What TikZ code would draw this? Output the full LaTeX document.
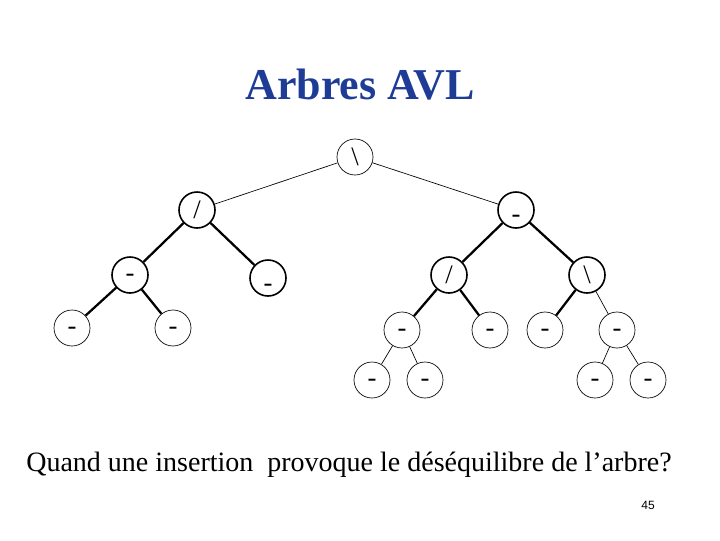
\documentclass[tikz,border=0pt]{standalone}
\usepackage{fontspec}
\setmainfont{Liberation Serif}
\newfontfamily\sans{Liberation Sans}
\definecolor{tblue}{RGB}{30,60,150}
\newcommand{\dsh}{\smash{\raisebox{-5pt}{-}}}
\begin{document}
\begin{tikzpicture}[x=0.75pt,y=-0.75pt,
  nd/.style={circle,draw,minimum size=27pt,inner sep=0pt,font=\fontsize{20}{20}\selectfont},
  thk/.style={nd,line width=1.2pt},
  thn/.style={nd,line width=0.5pt},
  te/.style={line width=1.7pt},
  tn/.style={line width=0.5pt}]
\useasboundingbox (0,0) rectangle (720,540);
\node[font=\bfseries\fontsize{33}{33}\selectfont,text=tblue] (title) at (360,85) {Arbres AVL};
\node[thn] (r) at (355,157) {\textbackslash};
\node[thk] (a) at (197,210) {/};
\node[thk] (b) at (516,210) {\smash{\raisebox{-9pt}{-}}};
\node[thk] (c) at (130,275) {\dsh};
\node[thk] (d) at (268,278) {\smash{\raisebox{-10pt}{-}}};
\node[thk] (e) at (449,275) {/};
\node[thk] (f) at (587,275) {\textbackslash};
\node[thn] (g) at (72,328) {\dsh};
\node[thn] (h) at (173,328) {\dsh};
\node[thn] (i) at (402,330) {\dsh};
\node[thn] (j) at (490,330) {\dsh};
\node[thn] (k) at (545,330) {\dsh};
\node[thn] (l) at (617,330) {\dsh};
\node[thn] (m) at (372,380) {\dsh};
\node[thn] (n) at (425,380) {\dsh};
\node[thn] (o) at (595,380) {\dsh};
\node[thn] (p) at (648,380) {\dsh};
\draw[tn] (r)--(a); \draw[tn] (r)--(b);
\draw[te] (a)--(c); \draw[te] (a)--(d);
\draw[te] (b)--(e); \draw[te] (b)--(f);
\draw[te] (c)--(g); \draw[te] (c)--(h);
\draw[te] (e)--(i); \draw[te] (e)--(j);
\draw[te] (f)--(k); \draw[tn] (f)--(l);
\draw[tn] (i)--(m); \draw[tn] (i)--(n);
\draw[tn] (l)--(o); \draw[tn] (l)--(p);
\node[font=\fontsize{21}{21}\selectfont] (q) at (349,465) {Quand une insertion\ \ provoque le déséquilibre de l’arbre?};
\node[font=\sans\fontsize{9}{9}\selectfont] (pg) at (648,505) {45};
\end{tikzpicture}
\end{document}
